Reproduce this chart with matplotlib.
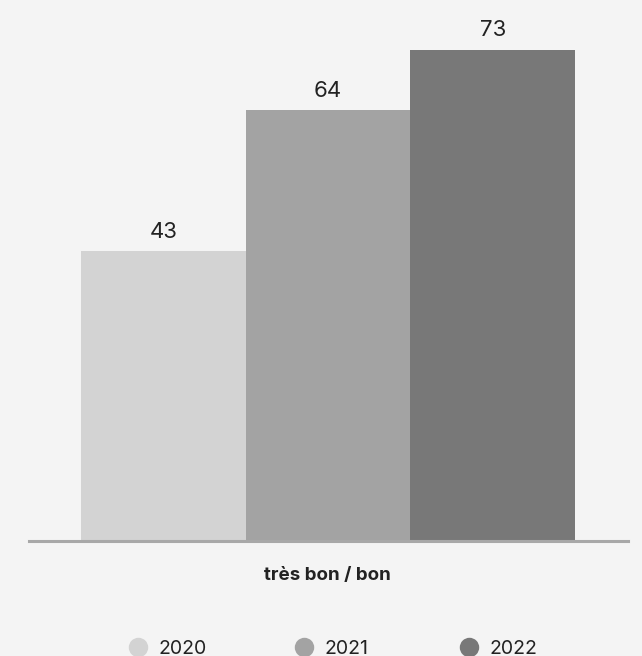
import matplotlib
matplotlib.use("Agg")
import matplotlib.pyplot as plt
from matplotlib.lines import Line2D

plt.rcParams['font.family'] = ['Inter', 'DejaVu Sans']

category = "très bon / bon"
years = ["2020", "2021", "2022"]
values = [43, 64, 73]
colors = ["#d3d3d3", "#a3a3a3", "#787878"]

bg = "#f4f4f4"
fig = plt.figure(figsize=(6.42, 6.56), dpi=100, facecolor=bg)
ax = fig.add_axes([29/642, 115.5/656, 599/642, 540.5/656], facecolor=bg)

width = 1.0
offsets = [-1, 0, 1]
for off, v, c in zip(offsets, values, colors):
    ax.bar(off, v, width=width, color=c, edgecolor='none', zorder=2)
    ax.text(off, v + 1.95, f"{v}", ha='center', va='baseline', fontsize=16, color="#222222")

ax.set_xlim(-1.5 - 52/165, 1.5 + 53/165)
ax.set_ylim(0, 540.5/6.726)
for s in ['top', 'right', 'left']:
    ax.spines[s].set_visible(False)
ax.spines['bottom'].set_color('#a8a8a8')
ax.spines['bottom'].set_linewidth(2.2)
ax.spines['bottom'].set_zorder(3)
ax.set_yticks([])
ax.set_xticks([])

fig.text(327/642, 1 - 575/656, category, ha='center', va='center', fontsize=13.5,
         fontweight='bold', color="#222222")

leg_x = [137.5, 304, 469]
for x, y, c in zip(leg_x, years, colors):
    fig.add_artist(Line2D([x/642], [1 - 646.5/656], marker='o', markersize=14, color=c,
                          markeredgecolor='none', transform=fig.transFigure))
    fig.text((x + 20.5)/642, 1 - 653.5/656, y, ha='left', va='baseline', fontsize=14, color="#222222")

fig.savefig("out.png", dpi=100, facecolor=bg)
